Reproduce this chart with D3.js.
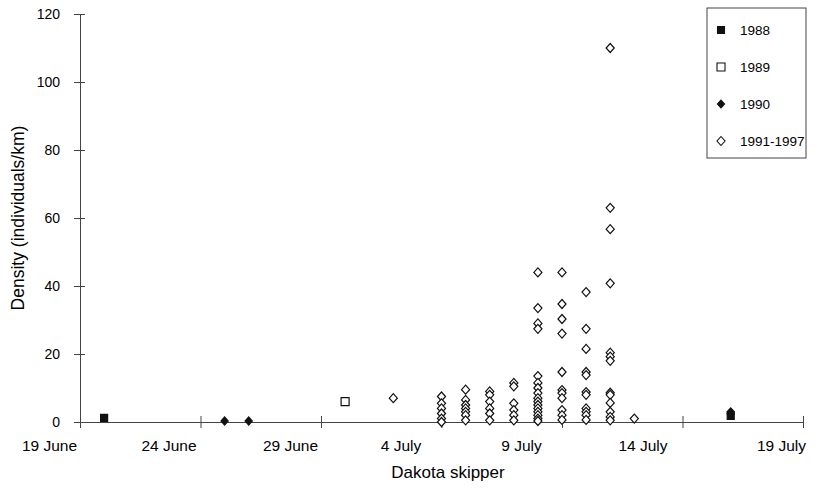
<!DOCTYPE html>
<html lang="en">
<head>
<meta charset="utf-8">
<script src="https://cdn.jsdelivr.net/npm/d3@7"></script>
<style>
    body { margin: 0; background: #fff; }
    text { font-family: "Liberation Sans", Arial, sans-serif; fill: #000; }
</style>
</head>
<body>
<div id="chart"></div>
<script type="text/javascript">

    /* data: [date, density] */
    var obs1988 = [["2000-06-20", 1.2], ["2000-07-16", 1.8]];
    var obs1989 = [["2000-06-30", 6]];
    var obs1990 = [["2000-06-25", 0.3], ["2000-06-26", 0.3], ["2000-07-16", 3], ["2000-07-16", 2.4]];
    var obs9197 = [
        ["2000-07-02", 7],
        ["2000-07-04", 7.5], ["2000-07-04", 5.5], ["2000-07-04", 4], ["2000-07-04", 2.5], ["2000-07-04", 1], ["2000-07-04", 0],
        ["2000-07-05", 9.5], ["2000-07-05", 6.5], ["2000-07-05", 5], ["2000-07-05", 4], ["2000-07-05", 3], ["2000-07-05", 2], ["2000-07-05", 0.5],
        ["2000-07-06", 9], ["2000-07-06", 8], ["2000-07-06", 6], ["2000-07-06", 4], ["2000-07-06", 2.5], ["2000-07-06", 0.5],
        ["2000-07-07", 11.5], ["2000-07-07", 10.5], ["2000-07-07", 5.5], ["2000-07-07", 3.5], ["2000-07-07", 2], ["2000-07-07", 0.5],
        ["2000-07-08", 44], ["2000-07-08", 33.5], ["2000-07-08", 29], ["2000-07-08", 27.4], ["2000-07-08", 13.5], ["2000-07-08", 11.5],
        ["2000-07-08", 10], ["2000-07-08", 8.5], ["2000-07-08", 7], ["2000-07-08", 6], ["2000-07-08", 5], ["2000-07-08", 4],
        ["2000-07-08", 3], ["2000-07-08", 2], ["2000-07-08", 1], ["2000-07-08", 0.3],
        ["2000-07-09", 44], ["2000-07-09", 34.7], ["2000-07-09", 30.3], ["2000-07-09", 26], ["2000-07-09", 14.7], ["2000-07-09", 9.4],
        ["2000-07-09", 8.5], ["2000-07-09", 7], ["2000-07-09", 3.5], ["2000-07-09", 2], ["2000-07-09", 0.6],
        ["2000-07-10", 38.2], ["2000-07-10", 27.4], ["2000-07-10", 21.5], ["2000-07-10", 14.7], ["2000-07-10", 13.8], ["2000-07-10", 8.8],
        ["2000-07-10", 8], ["2000-07-10", 4], ["2000-07-10", 3], ["2000-07-10", 2], ["2000-07-10", 0.6],
        ["2000-07-11", 110], ["2000-07-11", 63], ["2000-07-11", 56.7], ["2000-07-11", 40.8], ["2000-07-11", 20.4], ["2000-07-11", 19.2],
        ["2000-07-11", 18], ["2000-07-11", 8.6], ["2000-07-11", 8], ["2000-07-11", 5.6], ["2000-07-11", 3], ["2000-07-11", 1.5], ["2000-07-11", 0.5],
        ["2000-07-12", 1]
    ];

    var xTickDates = ["2000-06-19", "2000-06-24", "2000-06-29", "2000-07-04", "2000-07-09", "2000-07-14", "2000-07-19"];
    var xTickLabels = ["19 June", "24 June", "29 June", "4 July", "9 July", "14 July", "19 July"];
    var yTicks = [0, 20, 40, 60, 80, 100, 120];
    var legendLabels = ["1988", "1989", "1990", "1991-1997"];

    var svgWidth = 826;
    var svgHeight = 494;
    var margin = {top: 14, right: 23, bottom: 72, left: 80};
    var chartWidth = svgWidth - margin.left - margin.right;
    var chartHeight = svgHeight - margin.top - margin.bottom;

    /* the printed labels are not centred on their ticks */
    var xLabelShift = [-31, -32, -31, -41, -41, -40, -22];

    var parseTime = d3.utcParse("%Y-%m-%d");

    var x = d3.scaleUtc()
            .range([0, chartWidth])
            .domain([parseTime(xTickDates[0]), parseTime(xTickDates[xTickDates.length - 1])]);

    var y = d3.scaleLinear()
            .range([chartHeight, 0])
            .domain([0, 120]);

    var svg = d3.select("#chart").append("svg")
            .attr("width", svgWidth)
            .attr("height", svgHeight);

    var g = svg.append("g")
            .attr("transform", "translate(" + margin.left + "," + margin.top + ")");

    /* y axis - ticks cross the line */
    var yAxis = g.append("g")
            .call(d3.axisLeft(y).tickValues(yTicks).tickSize(6).tickPadding(14));
    yAxis.select(".domain").attr("stroke", "#444");
    yAxis.selectAll(".tick line").attr("x2", 5).attr("x1", -6).attr("stroke", "#444");
    yAxis.selectAll(".tick text").style("font-size", "14px").style("fill", "#000");

    /* x axis */
    var xAxis = g.append("g")
            .attr("transform", "translate(0," + chartHeight + ")")
            .call(d3.axisBottom(x)
                    .tickValues(xTickDates.map(parseTime))
                    .tickFormat(function(d, i) { return xTickLabels[i]; })
                    .tickSize(6)
                    .tickPadding(12));
    xAxis.select(".domain").attr("stroke", "#444");
    xAxis.selectAll(".tick line").attr("y1", -6).attr("y2", 6).attr("stroke", "#444");
    xAxis.selectAll(".tick text")
            .attr("dx", function(d, i) { return xLabelShift[i]; })
            .style("font-size", "15.5px").style("fill", "#000");

    /* axis titles */
    svg.append("text")
            .attr("transform", "translate(24," + (margin.top + chartHeight / 2) + ") rotate(-90)")
            .attr("text-anchor", "middle")
            .style("font-size", "17.5px")
            .text("Density (individuals/km)");

    svg.append("text")
            .attr("x", 448)
            .attr("y", 478)
            .attr("text-anchor", "middle")
            .style("font-size", "17px")
            .text("Dakota skipper");

    /* markers */
    var diamond = function(r) { return "M0," + (-r) + "L" + (r * 0.9) + ",0L0," + r + "L" + (-r * 0.9) + ",0Z"; };
    var square = function(s) { return "M" + (-s) + "," + (-s) + "h" + (2 * s) + "v" + (2 * s) + "h" + (-2 * s) + "Z"; };

    var markerStyles = [
        {path: square(3.5), fill: "#111", stroke: "#111"},
        {path: square(4), fill: "#fff", stroke: "#111"},
        {path: diamond(4), fill: "#111", stroke: "#111"},
        {path: diamond(4.5), fill: "#fff", stroke: "#111"}
    ];

    function drawSeries(dataSet, style) {
        g.append("g").selectAll("path")
                .data(dataSet)
                .enter()
                .append("path")
                .attr("transform", function(d) { return "translate(" + x(parseTime(d[0])) + "," + y(d[1]) + ")"; })
                .attr("d", style.path)
                .attr("fill", style.fill)
                .attr("stroke", style.stroke)
                .attr("stroke-width", 1.2);
    }

    drawSeries(obs9197, markerStyles[3]);
    drawSeries(obs1989, markerStyles[1]);
    drawSeries(obs1990, markerStyles[2]);
    drawSeries(obs1988, markerStyles[0]);

    /* legend */
    var legend = svg.append("g").attr("transform", "translate(707,8)");
    legend.append("rect")
            .attr("width", 99)
            .attr("height", 150)
            .attr("fill", "#fff")
            .attr("stroke", "#444");

    var item = legend.selectAll(".item")
            .data(legendLabels)
            .enter()
            .append("g")
            .attr("class", "item")
            .attr("transform", function(d, i) { return "translate(0," + (22 + i * 37) + ")"; });

    item.append("path")
            .attr("transform", "translate(14,0)")
            .attr("d", function(d, i) { return markerStyles[i].path; })
            .attr("fill", function(d, i) { return markerStyles[i].fill; })
            .attr("stroke", function(d, i) { return markerStyles[i].stroke; })
            .attr("stroke-width", 1.1);

    item.append("text")
            .attr("x", 33)
            .attr("y", 5)
            .style("font-size", "13.5px")
            .text(function(d) { return d; });

</script>
</body>
</html>
